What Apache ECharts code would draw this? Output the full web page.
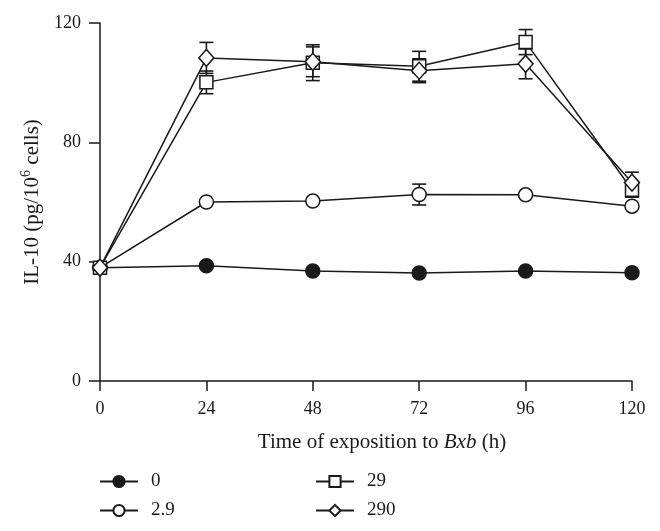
<!DOCTYPE html>
<html><head><meta charset="utf-8">
<script src="https://cdn.jsdelivr.net/npm/echarts@6/dist/echarts.min.js"></script>
<style>html,body{margin:0;padding:0;background:#fff}#c{width:660px;height:531px}</style>
</head><body><div id="c"></div>
<script>
var times = [0, 24, 48, 72, 96, 120];
var xTicks = [0, 24, 48, 72, 96, 120];
var yTicks = [0, 40, 80, 120];
var names = ['0', '2.9', '29', '290'];
var v0 = [38, 38.6, 36.9, 36.2, 36.9, 36.3];
var e0 = [0, 0, 0, 0, 0, 0];
var v29a = [38, 60, 60.3, 62.5, 62.4, 58.6];
var e29a = [0, 0, 0, 3.5, 0, 0];
var v29 = [38, 100.1, 106.7, 105.5, 113.6, 64.1];
var e29 = [0, 3.8, 6, 5, 4.2, 2.5];
var v290 = [38, 108.3, 107, 104, 106.3, 66.5];
var e290 = [0, 5.2, 5, 4, 5, 3.5];

var INK = '#1a1a1a';
var FONT = '"Liberation Serif", "DejaVu Serif", serif';

function pairs(v){ return times.map(function(t,i){ return [t, v[i]]; }); }
function errData(v,e){ var out=[]; times.forEach(function(t,i){ if(e[i]>0) out.push([t, v[i]-e[i], v[i]+e[i]]); }); return out; }

function errSeries(v,e){
  return {
    type:'custom', z:1, silent:true,
    data: errData(v,e),
    encode:{x:0, y:[1,2]},
    renderItem:function(params, api){
      var x = api.value(0);
      var lo = api.coord([x, api.value(1)]);
      var hi = api.coord([x, api.value(2)]);
      var w = 7;
      var st = {stroke: INK, lineWidth: 1.6};
      return {type:'group', children:[
        {type:'line', shape:{x1:lo[0], y1:lo[1], x2:hi[0], y2:hi[1]}, style:st},
        {type:'line', shape:{x1:lo[0]-w, y1:lo[1], x2:lo[0]+w, y2:lo[1]}, style:st},
        {type:'line', shape:{x1:hi[0]-w, y1:hi[1], x2:hi[0]+w, y2:hi[1]}, style:st}
      ]};
    }
  };
}

function lineSeries(name, v, symbol, size, fill){
  return {
    name:name, type:'line', z:3, data: pairs(v),
    symbol: symbol, symbolSize: size, showAllSymbol:true,
    lineStyle:{color:INK, width:1.5},
    itemStyle:{color: fill, borderColor: INK, borderWidth: 1.5},
    emphasis:{disabled:true}
  };
}

var chart = echarts.init(document.getElementById('c'), null, {renderer:'canvas'});
chart.setOption({
  animation:false,
  backgroundColor:'#fff',
  textStyle:{fontFamily:FONT, color:INK},
  grid:{left:100, right:28, top:23, bottom:150},
  xAxis:{
    type:'value', min:xTicks[0], max:xTicks[xTicks.length-1], interval:24,
    splitLine:{show:false},
    axisLine:{onZero:false, lineStyle:{color:INK, width:1.5}},
    axisTick:{length:10, lineStyle:{color:INK, width:1.5}},
    axisLabel:{fontSize:18, color:INK, fontFamily:FONT, margin:19},
    name:'{n|Time of exposition to }{i|Bxb}{n| (h)}',
    nameLocation:'middle', nameGap:51,
    nameTextStyle:{fontFamily:FONT, color:INK, fontSize:21, padding:[0,0,0,32],
      rich:{n:{fontSize:21, fontFamily:FONT, color:INK}, i:{fontSize:21, fontFamily:FONT, fontStyle:'italic', color:INK}}}
  },
  yAxis:{
    type:'value', min:yTicks[0], max:yTicks[yTicks.length-1], interval:40,
    splitLine:{show:false},
    axisLine:{show:true, lineStyle:{color:INK, width:1.5}},
    axisTick:{show:true, length:11, lineStyle:{color:INK, width:1.5}},
    axisLabel:{fontSize:18, color:INK, fontFamily:FONT, margin:19},
    name:'{n|IL-10 (pg/10}{s|6}{n| cells)}',
    nameLocation:'middle', nameGap:56, nameRotate:90,
    nameTextStyle:{fontFamily:FONT, color:INK, fontSize:21,
      rich:{n:{fontSize:21, fontFamily:FONT, color:INK, lineHeight:24, verticalAlign:'bottom'},
            s:{fontSize:14, fontFamily:FONT, color:INK, lineHeight:24, verticalAlign:'top'}}}
  },
  legend:[
    {data:[names[0], names[1]], orient:'vertical', left:99, top:472, padding:0, itemWidth:38, itemHeight:14, itemGap:10,
     textStyle:{fontSize:19, fontFamily:FONT, color:INK, padding:[0,0,0,8]}},
    {data:[names[2], names[3]], orient:'vertical', left:315, top:472, padding:0, itemWidth:38, itemHeight:14, itemGap:10,
     textStyle:{fontSize:19, fontFamily:FONT, color:INK, padding:[0,0,0,8]}}
  ],
  series:[
    errSeries(v0,e0), errSeries(v29a,e29a), errSeries(v29,e29), errSeries(v290,e290),
    lineSeries(names[0], v0, 'circle', 14, INK),
    lineSeries(names[1], v29a, 'circle', 14, '#fff'),
    lineSeries(names[2], v29, 'rect', 13, '#fff'),
    lineSeries(names[3], v290, 'diamond', [15,17], '#fff')
  ]
});
</script></body></html>
